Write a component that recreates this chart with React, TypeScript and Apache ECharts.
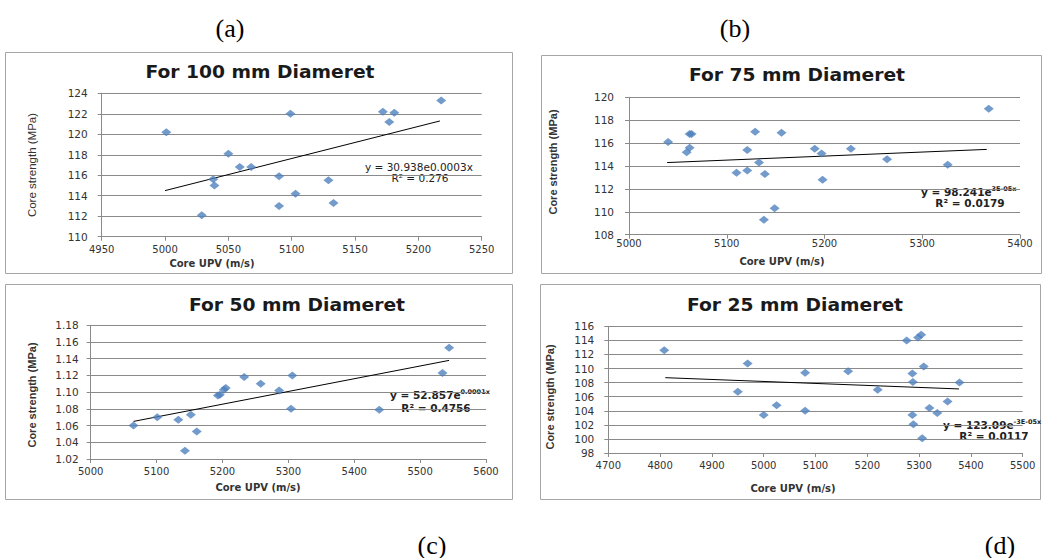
import React, { useEffect, useRef } from "react";
import * as echarts from "echarts";

// ---- Data ----
const upv100 = [5001, 5029, 5038, 5039, 5050, 5059, 5068, 5090, 5090, 5099, 5103, 5129, 5133, 5172, 5177, 5181, 5218];
const str100 = [120.2, 112.1, 115.6, 115.0, 118.1, 116.8, 116.8, 115.9, 113.0, 122.0, 114.2, 115.5, 113.3, 122.2, 121.2, 122.1, 123.3];
const trend100X = [5000, 5217];
const trend100Y = [114.5, 121.3];

const upv75 = [5040, 5062, 5064, 5062, 5059, 5110, 5121, 5121, 5129, 5133, 5139, 5138, 5149, 5156, 5190, 5197, 5198, 5227, 5264, 5326, 5368];
const str75 = [116.1, 116.8, 116.8, 115.6, 115.2, 113.4, 115.4, 113.6, 117.0, 114.3, 113.3, 109.3, 110.3, 116.9, 115.5, 115.1, 112.8, 115.5, 114.6, 114.1, 119.0];
const trend75X = [5039, 5366];
const trend75Y = [114.3, 115.45];

const upv50 = [5065, 5101, 5133, 5152, 5161, 5143, 5193, 5196, 5202, 5205, 5233, 5258, 5286, 5306, 5304, 5438, 5534, 5544];
const str50 = [1.06, 1.07, 1.067, 1.073, 1.053, 1.03, 1.096, 1.097, 1.103, 1.105, 1.118, 1.11, 1.102, 1.12, 1.08, 1.079, 1.123, 1.153];
const trend50X = [5065, 5544];
const trend50Y = [1.065, 1.138];

const upv25 = [4808, 4950, 4969, 5000, 5025, 5080, 5080, 5163, 5220, 5276, 5298, 5304, 5287, 5288, 5309, 5287, 5289, 5306, 5320, 5335, 5355, 5378];
const str25 = [112.6, 106.7, 110.7, 103.4, 104.8, 104.0, 109.4, 109.6, 107.0, 114.0, 114.4, 114.8, 109.3, 108.1, 110.3, 103.4, 102.1, 100.1, 104.4, 103.7, 105.3, 108.0];
const trend25X = [4810, 5377];
const trend25Y = [108.7, 107.1];

const titles = ["For 100 mm Diameret", "For 75 mm Diameret", "For 50 mm Diameret", "For 25 mm Diameret"];
const xAxisTitle = "Core UPV (m/s)";
const yAxisTitle = "Core strength (MPa)";
const panelLetters = ["(a)", "(b)", "(c)", "(d)"];

const xRanges = [
  [4950, 5250, 50],
  [5000, 5400, 100],
  [5000, 5600, 100],
  [4700, 5500, 100],
];
const yRanges = [
  [110, 124, 2],
  [108, 120, 2],
  [1.02, 1.18, 0.02],
  [98, 116, 2],
];
const equations = [
  ["y = 30.938e0.0003x", "", "R² = 0.276"],
  ["y = 98.241e", "3E-05x", "R² = 0.0179"],
  ["y = 52.857e", "0.0001x", "R² = 0.4756"],
  ["y = 123.09e", "-3E-05x", "R² = 0.0117"],
];

const FONT = "DejaVu Sans";
const GRID_COLOR = "#8a8a8a";
const MARKER = "#4F81BD";

const zip = (a: number[], b: number[]) => a.map((v, i) => [v, b[i]]);

export default function App() {
  const ref = useRef<HTMLDivElement>(null);

  useEffect(() => {
    if (!ref.current) return;
    const chart = echarts.init(ref.current, undefined, { renderer: "svg" });

    const scatterData = [zip(upv100, str100), zip(upv75, str75), zip(upv50, str50), zip(upv25, str25)];
    const trendData = [zip(trend100X, trend100Y), zip(trend75X, trend75Y), zip(trend50X, trend50Y), zip(trend25X, trend25Y)];

    const grids = [
      { left: 101.7, top: 93.3, width: 380, height: 143.4 },
      { left: 629, top: 97.3, width: 391, height: 137.4 },
      { left: 90.7, top: 325.3, width: 395.3, height: 133.7 },
      { left: 608.3, top: 326.3, width: 414.4, height: 126.7 },
    ];
    const xLabelMargin = [8, 4, 7, 7];
    const yLabelMargin = [14, 15, 12, 14];

    const xAxes = xRanges.map((r, i) => ({
      type: "value",
      gridIndex: i,
      min: r[0],
      max: r[1],
      interval: r[2],
      axisLine: { show: true, lineStyle: { color: GRID_COLOR, width: 1 } },
      axisTick: { show: true, length: 4, lineStyle: { color: GRID_COLOR } },
      splitLine: { show: false },
      axisLabel: {
        fontFamily: FONT,
        fontSize: 10,
        color: "#333",
        margin: xLabelMargin[i],
        formatter: (v: number) => String(Math.round(v)),
      },
    }));
    const yAxes = yRanges.map((r, i) => ({
      type: "value",
      gridIndex: i,
      min: r[0],
      max: r[1],
      interval: r[2],
      axisLine: { show: true, lineStyle: { color: GRID_COLOR, width: 1 } },
      axisTick: { show: true, length: 4, lineStyle: { color: GRID_COLOR } },
      splitLine: { show: true, lineStyle: { color: GRID_COLOR, width: 1 } },
      axisLabel: {
        fontFamily: FONT,
        fontSize: 10.5,
        color: "#333",
        margin: yLabelMargin[i],
        formatter: (v: number) => (i === 2 ? v.toFixed(2) : String(Math.round(v))),
      },
    }));

    const series: any[] = [];
    for (let i = 0; i < 4; i++) {
      series.push({
        type: "line",
        xAxisIndex: i,
        yAxisIndex: i,
        data: trendData[i],
        showSymbol: false,
        symbol: "none",
        lineStyle: { color: "#000", width: 1 },
        z: 3,
      });
      series.push({
        type: "scatter",
        xAxisIndex: i,
        yAxisIndex: i,
        data: scatterData[i],
        symbol: "diamond",
        symbolSize: [10, 8],
        itemStyle: { color: MARKER },
        z: 4,
      });
    }

    // layout of decorations
    const boxes = [
      [5, 52, 507, 221],
      [541, 55, 500, 218],
      [5, 284, 507, 215],
      [540, 284, 500, 215],
    ];
    const titlePos = [
      [260, 72],
      [797, 75],
      [297, 305],
      [795, 305],
    ];
    const xTitlePos = [
      [212, 263],
      [782, 261],
      [258, 487],
      [793, 488],
    ];
    const yTitlePos = [
      [32, 165],
      [553, 162],
      [32, 395],
      [550, 397],
    ];
    const eqPos = [
      [365, 167, 420, 178],
      [921, 192, 970, 203],
      [390, 395, 436, 408],
      [943, 425, 994, 436],
    ];
    const letterPos = [
      [230, 28],
      [735, 28],
      [432, 545],
      [1000, 545],
    ];

    const graphic: any[] = [];
    for (let i = 0; i < 4; i++) {
      const b = boxes[i];
      graphic.push({
        type: "rect",
        shape: { x: b[0] + 0.5, y: b[1] + 0.5, width: b[2], height: b[3] },
        style: { fill: "transparent", stroke: "#a6a6a6", lineWidth: 1 },
        z: -1,
      });
      graphic.push({
        type: "text",
        x: titlePos[i][0],
        y: titlePos[i][1],
        scaleX: 1.1,
        style: {
          text: titles[i],
          fontFamily: FONT,
          fontWeight: "bold",
          fontSize: 17,
          fill: "#1a1a1a",
          align: "center",
          verticalAlign: "middle",
        },
      });
      graphic.push({
        type: "text",
        x: xTitlePos[i][0],
        y: xTitlePos[i][1],
        style: {
          text: xAxisTitle,
          fontFamily: FONT,
          fontWeight: "bold",
          fontSize: 10,
          fill: "#333",
          align: "center",
          verticalAlign: "middle",
        },
      });
      graphic.push({
        type: "text",
        x: yTitlePos[i][0],
        y: yTitlePos[i][1],
        rotation: Math.PI / 2,
        style: {
          text: yAxisTitle,
          fontFamily: "Liberation Sans",
          fontWeight: i === 0 ? "normal" : "bold",
          fontSize: i === 0 ? 11.5 : 11,
          fill: "#333",
          align: "center",
          verticalAlign: "middle",
        },
      });
      const eq = equations[i];
      const bold = i === 0 ? "normal" : "bold";
      graphic.push({
        type: "text",
        x: eqPos[i][0],
        y: eqPos[i][1],
        style: {
          text: eq[1] ? `{m|${eq[0]}}{s|${eq[1]}}` : `{m|${eq[0]}}`,
          rich: {
            m: { fontFamily: FONT, fontSize: 10.5, fontWeight: bold, fill: "#222", color: "#222" },
            s: { fontFamily: FONT, fontSize: 6.5, fontWeight: bold, fill: "#222", color: "#222", verticalAlign: "top", padding: [0, 0, 6, 0] },
          },
          align: "left",
          verticalAlign: "middle",
        },
      });
      graphic.push({
        type: "text",
        x: eqPos[i][2],
        y: eqPos[i][3],
        style: {
          text: eq[2],
          fontFamily: FONT,
          fontSize: 10.5,
          fontWeight: bold,
          fill: "#222",
          align: "center",
          verticalAlign: "middle",
        },
      });
      graphic.push({
        type: "text",
        x: letterPos[i][0],
        y: letterPos[i][1],
        style: {
          text: panelLetters[i],
          fontFamily: "Liberation Serif",
          fontSize: 26,
          fill: "#000",
          align: "center",
          verticalAlign: "middle",
        },
      });
    }

    chart.setOption({
      animation: false,
      backgroundColor: "#fff",
      grid: grids,
      xAxis: xAxes,
      yAxis: yAxes,
      series,
      graphic,
    });

    return () => chart.dispose();
  }, []);

  return (
    <div
      ref={ref}
      style={{ position: "absolute", left: 0, top: 0, width: 1044, height: 558, background: "#fff" }}
    />
  );
}
